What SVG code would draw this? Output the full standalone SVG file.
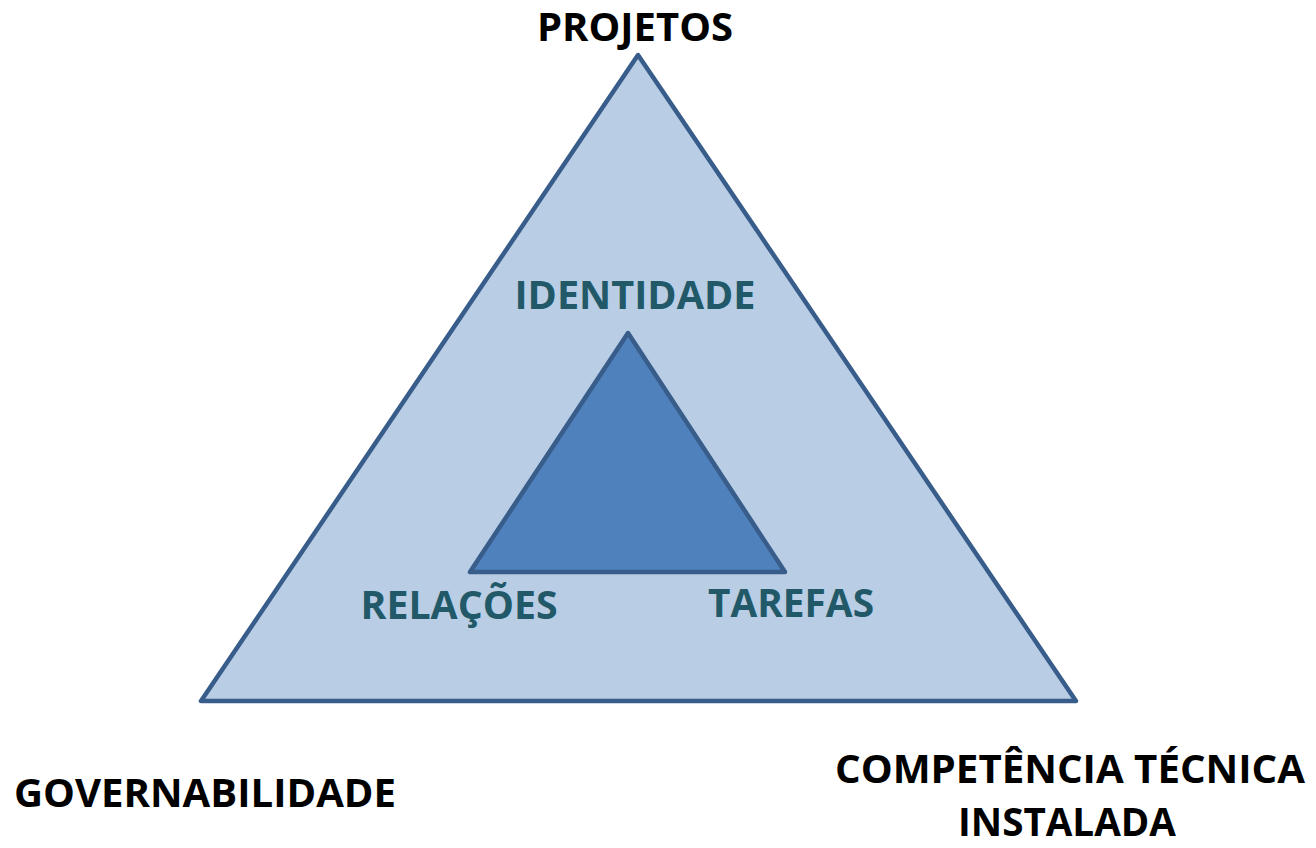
<svg xmlns="http://www.w3.org/2000/svg" width="1316" height="848" viewBox="0 0 1316 848">
  <style>
    .lbl { font-family: "Open Sans", "Noto Sans", "Liberation Sans", sans-serif; font-weight: bold; font-size: 40px; text-anchor: middle; }
    .outer { fill: #000000; }
    .inner { fill: #215968; }
  </style>
  <rect width="1316" height="848" fill="#ffffff"/>
  <g id="outer-triangle">
    <polygon points="638,55 201,701 1076,701" fill="#B9CDE5" stroke="#385D8A" stroke-width="4.5" stroke-linejoin="round"/>
  </g>
  <g id="inner-triangle">
    <polygon points="628,333 470,572 785,572" fill="#4F81BD" stroke="#385D8A" stroke-width="4.5" stroke-linejoin="round"/>
  </g>
  <g id="projetos"><text class="lbl outer" x="635" y="41" textLength="196" lengthAdjust="spacingAndGlyphs">PROJETOS</text></g>
  <g id="governabilidade"><text class="lbl outer" x="205" y="807" textLength="382" lengthAdjust="spacingAndGlyphs">GOVERNABILIDADE</text></g>
  <g id="competencia">
    <text class="lbl outer" x="1070" y="783" textLength="470" lengthAdjust="spacingAndGlyphs">COMPETÊNCIA TÉCNICA</text>
    <text class="lbl outer" x="1067" y="836" textLength="218" lengthAdjust="spacingAndGlyphs">INSTALADA</text>
  </g>
  <g id="identidade"><text class="lbl inner" x="635" y="309" textLength="241" lengthAdjust="spacingAndGlyphs">IDENTIDADE</text></g>
  <g id="relacoes"><text class="lbl inner" x="459" y="619" textLength="197" lengthAdjust="spacingAndGlyphs">RELAÇÕES</text></g>
  <g id="tarefas"><text class="lbl inner" x="791" y="617" textLength="166" lengthAdjust="spacingAndGlyphs">TAREFAS</text></g>
</svg>
